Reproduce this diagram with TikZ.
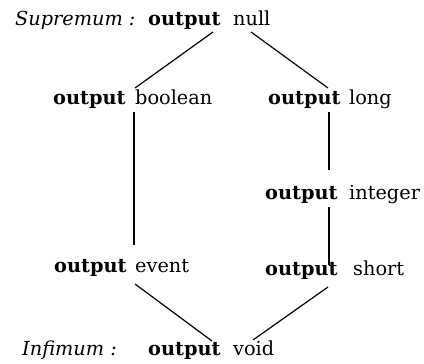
\documentclass[tikz,border=0pt]{standalone}
\usepackage{fontspec}
\setmainfont{DejaVu Serif}
\begin{document}
\begin{tikzpicture}[x=1pt,y=-1pt,
  txt/.style={anchor=base west,inner sep=0pt,font=\fontsize{19.3}{23}\selectfont},
  kw/.style={txt,font=\fontsize{19.3}{23}\selectfont\bfseries},
  lbl/.style={txt,font=\fontsize{19.3}{23}\selectfont\itshape},
  edge/.style={line width=1.2pt}]
\useasboundingbox (0,0) rectangle (424,364);
% labels
\node[lbl] (sup) at (15,26) {Supremum :};
\node[lbl] (inf) at (22,355) {Infimum :};
% nodes
\node[kw] (nullK) at (148,26) {output};
\node[txt] (nullT) at (233,26) {null};
\node[kw] (boolK) at (53,104) {output};
\node[txt] (boolT) at (135,104) {boolean};
\node[kw] (longK) at (268,104) {output};
\node[txt] (longT) at (349,104) {long};
\node[kw] (intK) at (265,199) {output};
\node[txt] (intT) at (349,199) {integer};
\node[kw] (evK) at (54,272) {output};
\node[txt] (evT) at (135,272) {event};
\node[kw] (shK) at (265,275) {output};
\node[txt] (shT) at (353,275) {short};
\node[kw] (voidK) at (148,355) {output};
\node[txt] (voidT) at (233,355) {void};
% connector ends
\coordinate (nullL) at (213,32);
\coordinate (nullR) at (251,32);
\coordinate (boolTop) at (135,88);
\coordinate (boolBot) at (134,112);
\coordinate (longTop) at (328,88);
\coordinate (longBot) at (329,112);
\coordinate (intTop) at (329,170);
\coordinate (intBot) at (329,207);
\coordinate (evTop) at (134,245);
\coordinate (evBot) at (135,284);
\coordinate (shTop) at (329,265);
\coordinate (shBot) at (328,287);
\coordinate (voidL) at (212,341);
\coordinate (voidR) at (253,340);
% connectors
\draw[edge] (nullL) -- (boolTop);
\draw[edge] (nullR) -- (longTop);
\draw[edge] (boolBot) -- (evTop);
\draw[edge] (longBot) -- (intTop);
\draw[edge] (intBot) -- (shTop);
\draw[edge] (evBot) -- (voidL);
\draw[edge] (shBot) -- (voidR);
\end{tikzpicture}
\end{document}
